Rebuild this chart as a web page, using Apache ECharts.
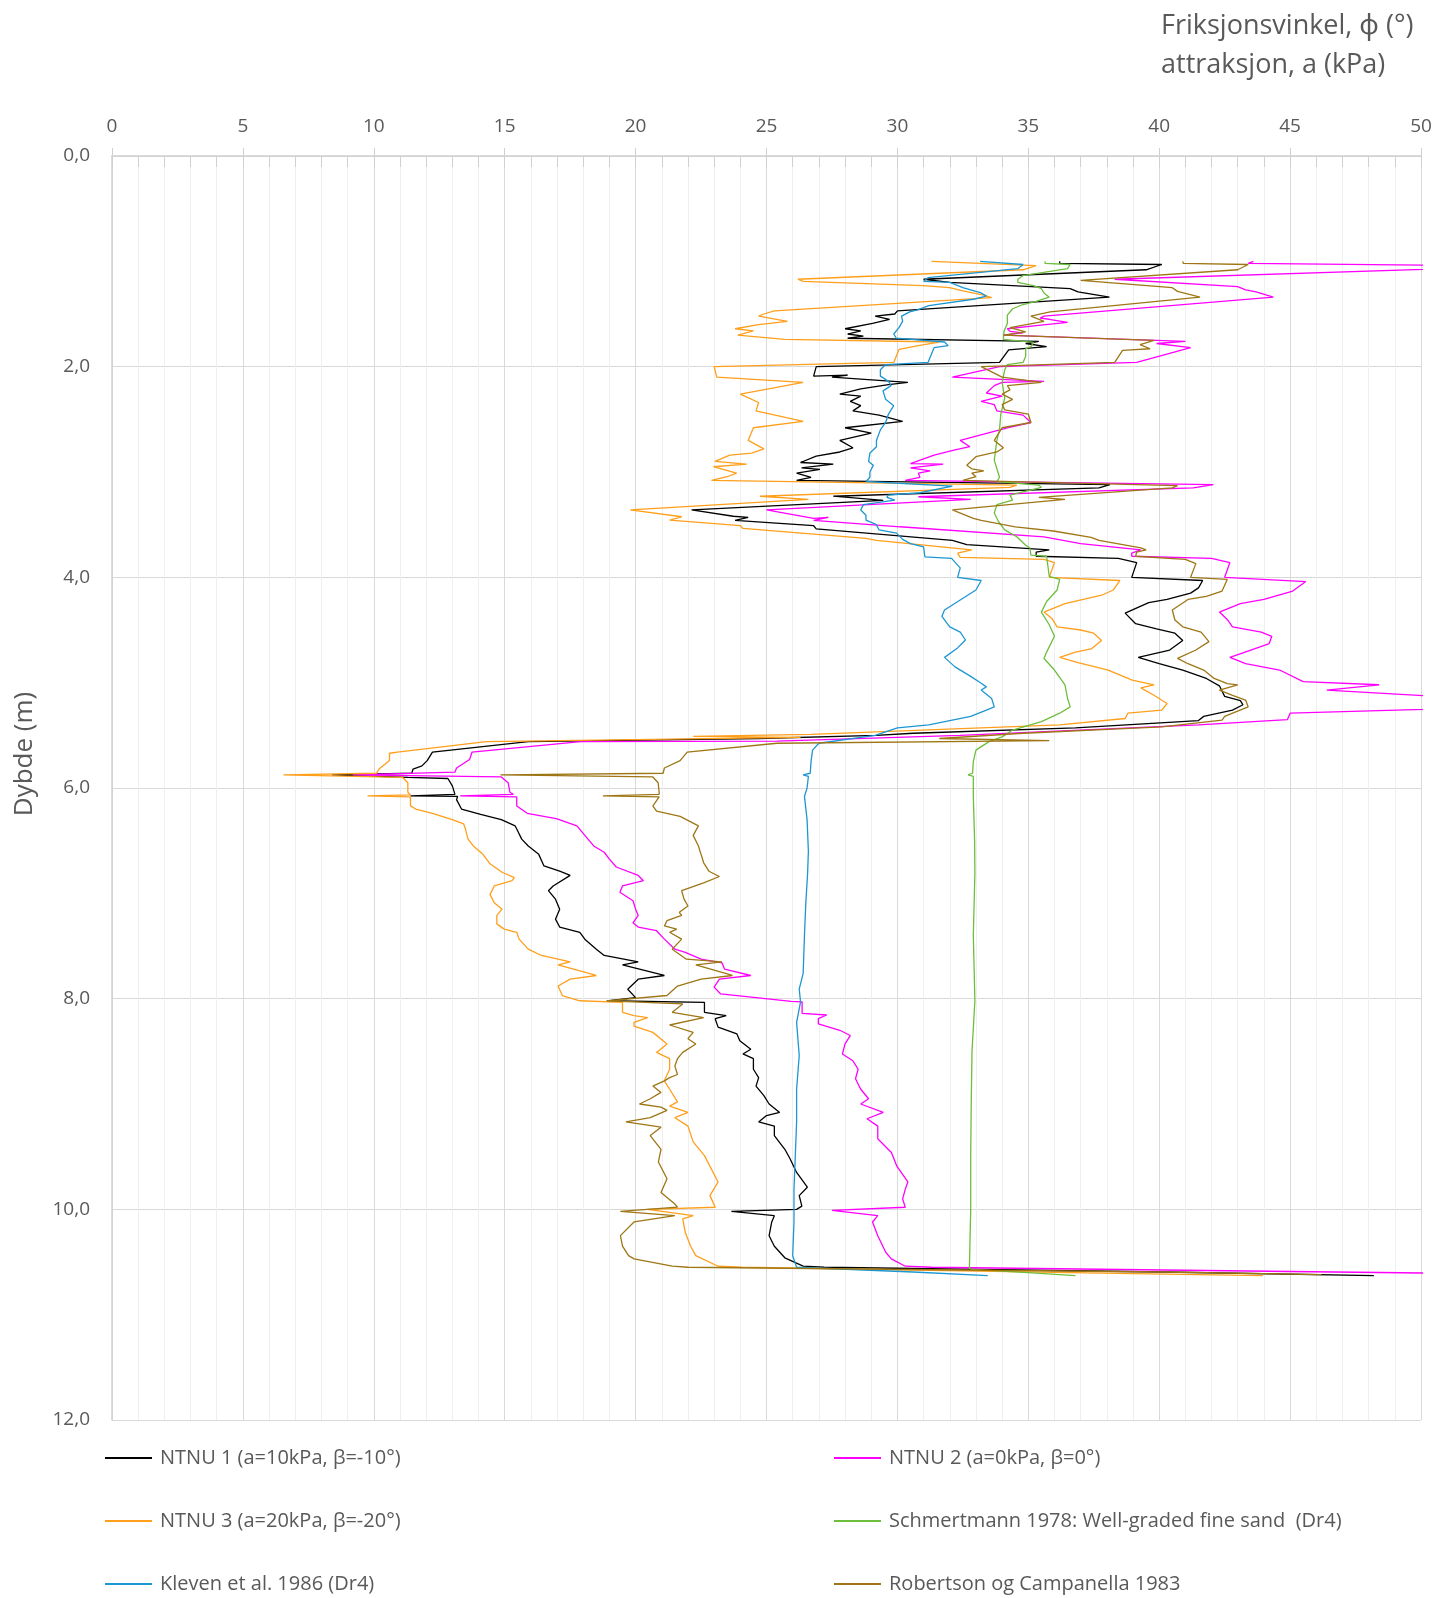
<!DOCTYPE html>
<html>
<head>
<meta charset="utf-8">
<script src="https://cdn.jsdelivr.net/npm/echarts@6/dist/echarts.min.js"></script>
<style>
  html, body { margin: 0; padding: 0; background: #ffffff; }
  #chart { width: 1446px; height: 1598px; }
</style>
</head>
<body>
<div id="chart"></div>
<script>
// Friction angle profiles vs depth, each point is [phi (deg) / a (kPa), depth (m)]
const ntnu1 = [[36.2,1.00],[36.2,1.02],[40.1,1.03],[39.5,1.08],[31.0,1.17],[32.0,1.20],[36.6,1.26],[36.9,1.29],[38.1,1.34],[30.0,1.47],[29.9,1.50],[29.15,1.52],[29.7,1.55],[29.05,1.59],[28.0,1.64],[28.6,1.66],[28.1,1.69],[28.7,1.71],[28.1,1.73],[35.4,1.76],[34.9,1.78],[35.7,1.81],[34.25,1.84],[33.9,1.96],[26.9,2.0],[26.8,2.09],[28.1,2.08],[27.5,2.10],[30.4,2.15],[29.66,2.17],[28.6,2.21],[27.8,2.26],[28.6,2.28],[28.2,2.33],[28.6,2.37],[28.3,2.42],[29.3,2.46],[30.2,2.52],[28.0,2.58],[29.0,2.63],[27.8,2.70],[28.3,2.77],[27.8,2.81],[26.9,2.85],[26.3,2.91],[27.55,2.925],[26.34,2.96],[27.04,2.975],[26.15,3.01],[26.7,3.05],[26.15,3.08],[38.12,3.12],[37.7,3.15],[27.55,3.23],[29.46,3.27],[22.14,3.36],[23.73,3.42],[24.3,3.43],[23.8,3.46],[26.8,3.51],[26.9,3.54],[32.1,3.65],[32.65,3.69],[35.8,3.74],[35.3,3.76],[35.3,3.80],[38.44,3.82],[39.14,3.86],[38.95,4.0],[41.66,4.03],[41.5,4.10],[41.2,4.15],[40.3,4.21],[39.6,4.24],[38.7,4.34],[39.1,4.44],[39.9,4.49],[40.6,4.53],[40.9,4.60],[40.4,4.69],[39.2,4.76],[40.0,4.82],[40.9,4.88],[41.8,4.96],[42.3,5.03],[42.5,5.13],[43.1,5.17],[43.2,5.21],[42.8,5.26],[41.7,5.32],[41.5,5.36],[36.8,5.43],[30.6,5.48],[29.2,5.50],[24.7,5.53],[15.9,5.56],[12.24,5.66],[12.04,5.74],[11.84,5.79],[11.5,5.82],[11.45,5.86],[8.4,5.875],[11.3,5.90],[12.83,5.91],[13.0,5.98],[13.1,6.06],[11.4,6.075],[13.2,6.08],[13.16,6.11],[13.35,6.2],[14.08,6.25],[14.87,6.30],[15.4,6.36],[15.46,6.39],[15.65,6.485],[15.9,6.55],[16.3,6.63],[16.5,6.74],[17.1,6.79],[17.5,6.83],[16.85,6.93],[16.67,6.975],[16.94,7.055],[17.1,7.15],[16.94,7.245],[17.1,7.32],[17.87,7.37],[18.06,7.435],[18.5,7.53],[18.8,7.59],[20.1,7.65],[19.5,7.68],[21.1,7.78],[20.1,7.815],[19.7,7.91],[20.0,7.99],[18.9,8.02],[22.63,8.035],[22.63,8.13],[23.46,8.16],[23.04,8.19],[23.15,8.27],[23.87,8.335],[23.98,8.40],[24.4,8.48],[24.1,8.525],[24.5,8.57],[24.5,8.67],[24.7,8.75],[24.6,8.83],[24.9,8.92],[25.1,9.00],[25.5,9.08],[25.0,9.11],[24.7,9.17],[25.3,9.21],[25.3,9.30],[25.7,9.43],[25.9,9.52],[26.15,9.65],[26.56,9.79],[26.25,9.87],[26.35,9.97],[26.15,10.0],[23.66,10.02],[25.3,10.06],[25.2,10.12],[25.1,10.25],[25.3,10.35],[25.7,10.46],[26.4,10.54],[27.2,10.55],[40.2,10.595],[48.2,10.63]];

const ntnu2 = [[43.6,1.00],[43.4,1.02],[52,1.04],[52,1.06],[38.3,1.17],[43.0,1.24],[43.3,1.27],[43.7,1.29],[44.36,1.34],[35.6,1.52],[35.45,1.54],[35.8,1.55],[36.5,1.58],[35.3,1.61],[34.2,1.64],[34.3,1.665],[34.8,1.68],[34.05,1.70],[41.0,1.76],[39.9,1.78],[41.2,1.82],[39.14,1.96],[33.9,2.0],[32.1,2.10],[35.6,2.14],[34.0,2.15],[33.7,2.18],[33.4,2.25],[34.0,2.28],[33.2,2.33],[33.7,2.36],[33.8,2.42],[34.8,2.46],[35.1,2.53],[34.2,2.58],[32.4,2.70],[32.77,2.76],[32.2,2.79],[31.4,2.84],[30.5,2.92],[31.75,2.925],[30.5,2.96],[31.25,2.99],[30.8,3.01],[30.86,3.05],[30.3,3.08],[42.07,3.12],[41.3,3.15],[30.8,3.235],[32.8,3.26],[25.0,3.36],[26.8,3.44],[27.36,3.43],[26.8,3.46],[30.1,3.52],[35.6,3.615],[37.0,3.68],[39.3,3.74],[38.95,3.77],[38.95,3.80],[42.0,3.82],[42.7,3.86],[42.5,4.0],[45.6,4.04],[45.1,4.13],[44.0,4.21],[43.1,4.25],[42.3,4.33],[42.6,4.40],[42.8,4.47],[43.9,4.52],[44.3,4.56],[44.2,4.63],[43.5,4.69],[42.7,4.76],[43.3,4.82],[44.6,4.88],[45.5,4.99],[48.4,5.02],[46.4,5.07],[52,5.15],[52,5.24],[45.0,5.29],[44.9,5.35],[41.5,5.40],[32.4,5.50],[25.4,5.555],[17.9,5.56],[13.75,5.66],[13.66,5.73],[13.16,5.81],[13.1,5.85],[9.2,5.875],[14.87,5.895],[15.13,5.95],[15.2,6.04],[15.33,6.06],[13.3,6.075],[15.46,6.085],[15.46,6.17],[15.86,6.24],[16.97,6.29],[17.76,6.36],[18.06,6.45],[18.4,6.55],[18.8,6.61],[19.0,6.675],[19.26,6.75],[20.1,6.83],[20.3,6.88],[19.5,6.93],[19.4,6.99],[19.9,7.07],[20.0,7.15],[20.1,7.21],[19.9,7.28],[20.1,7.32],[20.8,7.355],[21.1,7.435],[21.5,7.53],[21.9,7.56],[22.5,7.625],[23.3,7.66],[23.4,7.72],[24.4,7.78],[23.2,7.815],[23.0,7.89],[23.25,7.955],[25.94,8.025],[26.36,8.03],[26.36,8.14],[27.3,8.155],[26.98,8.19],[26.98,8.24],[27.8,8.30],[28.2,8.35],[28.0,8.43],[27.9,8.525],[28.3,8.59],[28.5,8.67],[28.4,8.76],[28.6,8.86],[28.9,8.95],[28.6,9.0],[29.46,9.08],[28.84,9.14],[29.25,9.21],[29.25,9.33],[29.77,9.46],[29.98,9.59],[30.4,9.74],[30.3,9.81],[30.2,9.90],[30.3,9.98],[27.5,10.01],[29.25,10.06],[29.05,10.12],[29.25,10.25],[29.56,10.41],[29.77,10.47],[30.3,10.54],[31.3,10.55],[45.0,10.59],[52,10.61]];

const ntnu3 = [[31.3,1.00],[31.28,1.01],[35.3,1.04],[34.8,1.08],[26.2,1.17],[26.4,1.19],[30.97,1.23],[32.0,1.25],[32.5,1.28],[33.3,1.32],[33.6,1.345],[25.3,1.47],[24.9,1.50],[24.7,1.52],[25.8,1.57],[24.7,1.60],[23.8,1.64],[24.5,1.66],[23.9,1.70],[25.7,1.74],[31.6,1.766],[30.8,1.80],[30.06,1.836],[29.86,1.96],[23.0,2.0],[23.1,2.10],[26.4,2.15],[24.0,2.26],[24.7,2.34],[24.6,2.42],[26.4,2.52],[24.5,2.58],[24.3,2.70],[24.9,2.78],[24.43,2.82],[23.6,2.84],[23.03,2.90],[24.24,2.925],[22.97,2.95],[23.86,3.01],[23.5,3.045],[22.9,3.08],[34.56,3.124],[34.3,3.146],[24.75,3.23],[26.6,3.26],[19.8,3.36],[21.76,3.425],[21.3,3.457],[24.0,3.51],[24.1,3.536],[28.8,3.63],[29.2,3.65],[32.84,3.74],[32.3,3.77],[32.4,3.81],[35.6,3.83],[36.0,3.86],[35.8,4.0],[38.5,4.03],[38.25,4.12],[37.8,4.17],[36.4,4.25],[35.6,4.33],[35.9,4.39],[36.1,4.47],[37.0,4.50],[37.5,4.53],[37.8,4.60],[37.4,4.68],[36.8,4.71],[36.2,4.76],[36.9,4.81],[38.05,4.88],[38.97,4.975],[39.8,5.02],[39.3,5.05],[39.8,5.12],[40.3,5.198],[40.1,5.26],[38.8,5.29],[38.7,5.34],[36.2,5.40],[26.7,5.49],[22.2,5.51],[26.3,5.52],[14.3,5.56],[10.9,5.66],[10.6,5.67],[10.6,5.74],[10.2,5.82],[10.1,5.86],[6.55,5.875],[11.1,5.90],[11.3,5.95],[11.3,6.04],[11.4,6.065],[9.76,6.075],[11.4,6.085],[11.4,6.17],[11.6,6.20],[12.24,6.24],[13.0,6.30],[13.43,6.34],[13.5,6.39],[13.6,6.485],[13.8,6.55],[14.17,6.63],[14.44,6.72],[14.9,6.80],[15.37,6.85],[15.28,6.88],[14.6,6.93],[14.44,7.01],[14.6,7.09],[14.9,7.15],[14.7,7.21],[14.7,7.29],[14.98,7.34],[15.46,7.37],[15.55,7.435],[15.9,7.53],[16.4,7.59],[17.5,7.65],[17.04,7.68],[18.5,7.78],[17.5,7.815],[17.04,7.88],[17.2,7.97],[17.87,8.02],[19.5,8.035],[19.5,8.13],[19.94,8.16],[20.46,8.18],[19.94,8.225],[19.94,8.26],[20.66,8.32],[21.2,8.43],[20.8,8.51],[21.3,8.57],[21.3,8.67],[21.1,8.78],[21.3,8.86],[21.6,8.98],[21.3,9.02],[22.0,9.08],[21.5,9.13],[22.0,9.21],[22.2,9.36],[22.63,9.49],[23.15,9.74],[22.84,9.87],[23.04,9.98],[20.46,10.0],[22.2,10.06],[21.8,10.09],[21.9,10.22],[22.1,10.35],[22.3,10.44],[23.15,10.54],[24.08,10.55],[39.0,10.61],[43.95,10.63]];

const schmertmann = [[35.64,1.00],[35.64,1.02],[36.6,1.03],[36.5,1.07],[34.8,1.135],[34.6,1.17],[34.6,1.20],[35.2,1.23],[35.5,1.26],[35.6,1.30],[35.8,1.34],[35.3,1.38],[34.8,1.41],[34.4,1.45],[34.2,1.51],[34.2,1.59],[34.07,1.665],[34.05,1.74],[35.2,1.77],[35.1,1.81],[34.9,1.83],[34.9,1.90],[34.8,1.96],[34.2,1.98],[34.1,2.03],[34.0,2.15],[34.1,2.3],[33.95,2.45],[33.9,2.6],[33.8,2.70],[33.7,2.89],[33.9,3.05],[33.8,3.09],[35.4,3.124],[35.5,3.146],[34.3,3.22],[34.4,3.267],[33.8,3.31],[33.7,3.39],[33.86,3.47],[34.1,3.55],[34.56,3.615],[34.9,3.695],[35.06,3.72],[35.1,3.79],[35.7,3.80],[35.8,3.99],[36.2,4.02],[36.1,4.12],[35.7,4.23],[35.5,4.33],[35.8,4.45],[36.0,4.56],[35.7,4.71],[35.6,4.77],[36.0,4.88],[36.4,5.02],[36.5,5.15],[36.6,5.23],[36.2,5.29],[35.5,5.37],[34.4,5.45],[34.0,5.515],[33.5,5.56],[33.0,5.64],[32.9,5.75],[32.87,5.86],[32.7,5.875],[32.9,5.89],[32.9,6.08],[32.95,6.5],[32.96,6.81],[32.9,7.4],[32.96,8.02],[32.85,8.5],[32.82,9.0],[32.8,9.5],[32.8,10.0],[32.75,10.56],[32.85,10.57],[35.3,10.605],[36.8,10.63]];

const kleven = [[33.16,1.00],[33.2,1.013],[34.8,1.03],[34.6,1.07],[31.17,1.155],[31.0,1.19],[32.0,1.20],[32.5,1.25],[33.2,1.30],[33.4,1.33],[32.9,1.36],[31.2,1.42],[30.77,1.46],[30.47,1.48],[30.16,1.52],[30.2,1.57],[30.06,1.63],[29.86,1.69],[29.96,1.73],[31.8,1.766],[31.94,1.80],[31.4,1.82],[31.17,1.96],[29.55,1.98],[29.35,2.03],[29.35,2.09],[29.66,2.14],[29.76,2.18],[29.45,2.23],[29.55,2.31],[29.86,2.37],[29.66,2.45],[29.55,2.53],[29.35,2.60],[29.2,2.70],[29.2,2.76],[28.95,2.82],[28.9,2.90],[29.08,2.935],[28.95,3.0],[28.95,3.05],[28.8,3.09],[32.1,3.134],[30.86,3.197],[29.65,3.22],[29.6,3.24],[29.9,3.267],[28.7,3.31],[28.6,3.36],[28.8,3.41],[28.8,3.457],[29.2,3.50],[29.3,3.55],[29.97,3.58],[30.2,3.64],[30.5,3.68],[31.0,3.71],[31.05,3.805],[32.07,3.82],[32.3,3.884],[32.4,3.91],[32.3,4.0],[33.2,4.03],[33.0,4.12],[32.4,4.215],[31.8,4.31],[31.7,4.37],[32.0,4.47],[32.4,4.52],[32.6,4.595],[32.3,4.67],[31.8,4.76],[32.2,4.85],[32.8,4.94],[33.2,5.006],[33.4,5.04],[33.2,5.07],[33.6,5.15],[33.7,5.23],[33.4,5.26],[32.8,5.32],[31.2,5.40],[30.0,5.43],[29.15,5.50],[27.0,5.575],[26.76,5.64],[26.7,5.75],[26.67,5.86],[26.4,5.875],[26.6,5.89],[26.55,6.0],[26.45,6.08],[26.55,6.3],[26.6,6.6],[26.57,6.81],[26.5,7.1],[26.45,7.4],[26.4,7.76],[26.25,7.91],[26.3,8.03],[26.15,8.225],[26.25,8.54],[26.15,8.86],[26.15,9.17],[26.1,9.49],[26.05,9.81],[26.05,10.12],[26.0,10.44],[26.15,10.55],[30.6,10.595],[30.6,10.61],[33.45,10.63]];

const robertson = [[40.9,1.00],[40.92,1.02],[43.4,1.03],[43.0,1.08],[37.0,1.18],[40.5,1.25],[40.7,1.285],[41.56,1.34],[35.83,1.48],[35.1,1.52],[35.6,1.57],[34.3,1.63],[34.9,1.67],[34.05,1.70],[39.8,1.75],[39.27,1.79],[39.65,1.83],[38.6,1.845],[38.3,1.96],[33.2,2.0],[34.0,2.10],[35.5,2.15],[34.2,2.18],[34.3,2.22],[34.0,2.26],[34.4,2.31],[34.0,2.36],[34.1,2.41],[35.0,2.45],[35.1,2.53],[34.0,2.58],[33.7,2.70],[34.05,2.77],[33.8,2.81],[33.0,2.855],[32.65,2.935],[32.84,2.97],[33.3,2.99],[32.84,3.01],[33.0,3.045],[32.5,3.08],[40.7,3.13],[40.5,3.15],[35.4,3.24],[36.4,3.26],[32.1,3.36],[32.9,3.44],[33.2,3.46],[34.05,3.50],[34.5,3.52],[35.96,3.56],[37.4,3.62],[37.7,3.65],[39.3,3.72],[39.5,3.74],[39.14,3.76],[39.1,3.80],[41.0,3.83],[41.4,3.87],[41.2,4.0],[42.6,4.02],[42.4,4.13],[41.8,4.18],[41.1,4.21],[40.5,4.31],[40.6,4.405],[40.9,4.47],[41.6,4.52],[41.9,4.61],[41.4,4.69],[40.7,4.77],[41.1,4.82],[41.7,4.88],[42.1,4.96],[42.6,5.01],[43.0,5.02],[42.3,5.07],[42.8,5.12],[43.3,5.165],[43.4,5.23],[42.9,5.28],[42.5,5.32],[42.4,5.355],[40.1,5.42],[34.8,5.48],[31.6,5.53],[35.8,5.55],[25.4,5.575],[21.97,5.66],[21.7,5.74],[21.1,5.81],[21.05,5.86],[14.84,5.875],[20.66,5.895],[20.86,5.95],[20.9,6.04],[20.9,6.06],[18.75,6.075],[20.9,6.085],[20.66,6.17],[20.8,6.22],[21.7,6.27],[22.4,6.36],[22.2,6.45],[22.4,6.55],[22.5,6.63],[22.6,6.71],[22.8,6.79],[23.2,6.84],[22.6,6.90],[21.76,6.975],[21.85,7.055],[22.0,7.12],[21.67,7.18],[21.76,7.21],[21.2,7.26],[21.1,7.31],[21.57,7.34],[21.3,7.37],[21.76,7.435],[21.4,7.53],[21.94,7.625],[23.3,7.65],[22.3,7.68],[23.7,7.78],[22.5,7.815],[21.6,7.88],[21.2,7.97],[18.9,8.02],[21.8,8.05],[21.4,8.13],[22.6,8.18],[21.3,8.25],[22.2,8.32],[22.0,8.38],[22.3,8.43],[21.8,8.51],[21.6,8.57],[21.5,8.64],[21.6,8.72],[21.3,8.75],[21.1,8.78],[20.66,8.83],[20.97,8.89],[20.56,8.95],[20.15,9.0],[20.97,9.03],[21.2,9.06],[20.56,9.13],[19.63,9.17],[20.97,9.22],[20.56,9.30],[20.97,9.43],[20.87,9.55],[21.2,9.71],[20.97,9.84],[21.5,9.95],[21.6,9.98],[19.42,10.02],[21.5,10.06],[19.94,10.12],[19.42,10.25],[19.5,10.35],[19.73,10.44],[19.94,10.47],[21.4,10.54],[22.0,10.55],[40.15,10.595],[46.2,10.62]];

const seriesNames = [
  'NTNU 1 (a=10kPa, β=-10°)',
  'NTNU 2 (a=0kPa, β=0°)',
  'NTNU 3 (a=20kPa, β=-20°)',
  'Schmertmann 1978: Well-graded fine sand  (Dr4)',
  'Kleven et al. 1986 (Dr4)',
  'Robertson og Campanella 1983'
];
const seriesData = [ntnu1, ntnu2, ntnu3, schmertmann, kleven, robertson];
const seriesColors = ['#000000', '#FF00FF', '#FF9F1C', '#6DBE3C', '#1C97D2', '#9E7615'];

const xTitleLines = ['Friksjonsvinkel, ϕ (°)', 'attraksjon, a (kPa)'];
const yTitle = 'Dybde (m)';

const FONT = '"Open Sans", "Noto Sans", sans-serif';
const TXT = '#595959';

const chart = echarts.init(document.getElementById('chart'), null, { renderer: 'canvas' });

const series = seriesNames.map((name, i) => ({
  name: name,
  type: 'line',
  data: seriesData[i],
  showSymbol: false,
  symbol: 'none',
  clip: true,
  lineStyle: { color: seriesColors[i], width: 1.3 },
  itemStyle: { color: seriesColors[i] },
  z: 3 + i
}));

// two legend columns, three rows each; one legend per entry so rows sit at fixed heights
const legendCols = [105, 834];
const legendRows = [1448, 1511, 1574];
const legendSlots = [[0, 0], [1, 0], [0, 1], [1, 1], [0, 2], [1, 2]]; // [col,row] per series
const legends = seriesNames.map((name, i) => ({
  left: legendCols[legendSlots[i][0]],
  top: legendRows[legendSlots[i][1]],
  data: [name],
  icon: 'rect',
  itemWidth: 47,
  itemHeight: 2,
  itemGap: 0,
  padding: 0,
  selectedMode: false,
  textStyle: { color: TXT, fontFamily: FONT, fontSize: 20, lineHeight: 20, padding: [0, 0, 0, 3] }
}));

chart.setOption({
  animation: false,
  backgroundColor: '#ffffff',
  grid: { left: 112, right: 25, top: 156, bottom: 178, containLabel: false },
  xAxis: [
    {
      type: 'value',
      position: 'top',
      min: 0, max: 50, interval: 5,
      axisLine: { show: true, lineStyle: { color: '#d0d0d0', width: 1.5 } },
      axisTick: { show: true, inside: false, length: 8, lineStyle: { color: '#d0d0d0' } },
      axisLabel: { color: TXT, fontFamily: FONT, fontSize: 19, margin: 20 },
      splitLine: { show: true, lineStyle: { color: '#d9d9d9', width: 1 } },
      minorTick: { show: false, splitNumber: 5 },
      minorSplitLine: { show: true, lineStyle: { color: '#efefef', width: 1 } }
    },
    {
      type: 'value',
      position: 'top',
      min: 0, max: 50, interval: 1,
      axisLine: { show: false },
      axisTick: { show: true, inside: true, length: 11, lineStyle: { color: '#d0d0d0' } },
      axisLabel: { show: false },
      splitLine: { show: false }
    }
  ],
  yAxis: {
    type: 'value',
    inverse: true,
    min: 0, max: 12, interval: 2,
    axisLine: { show: true, lineStyle: { color: '#d0d0d0', width: 1.5 } },
    axisTick: { show: false },
    axisLabel: {
      color: TXT, fontFamily: FONT, fontSize: 19, margin: 22,
      formatter: v => v.toFixed(1).replace('.', ',')
    },
    splitLine: { show: true, lineStyle: { color: '#d9d9d9', width: 1 } }
  },
  legend: legends,
  graphic: [
    {
      type: 'text', left: 1161, top: 13,
      style: { text: xTitleLines[0], fill: TXT, font: '27px ' + FONT }
    },
    {
      type: 'text', left: 1161, top: 52,
      style: { text: xTitleLines[1], fill: TXT, font: '27px ' + FONT }
    },
    {
      type: 'text', x: 25, y: 754, rotation: Math.PI / 2,
      style: { text: yTitle, fill: TXT, font: '26px ' + FONT, align: 'center', verticalAlign: 'middle' }
    }
  ],
  series: series
});
</script>
</body>
</html>
